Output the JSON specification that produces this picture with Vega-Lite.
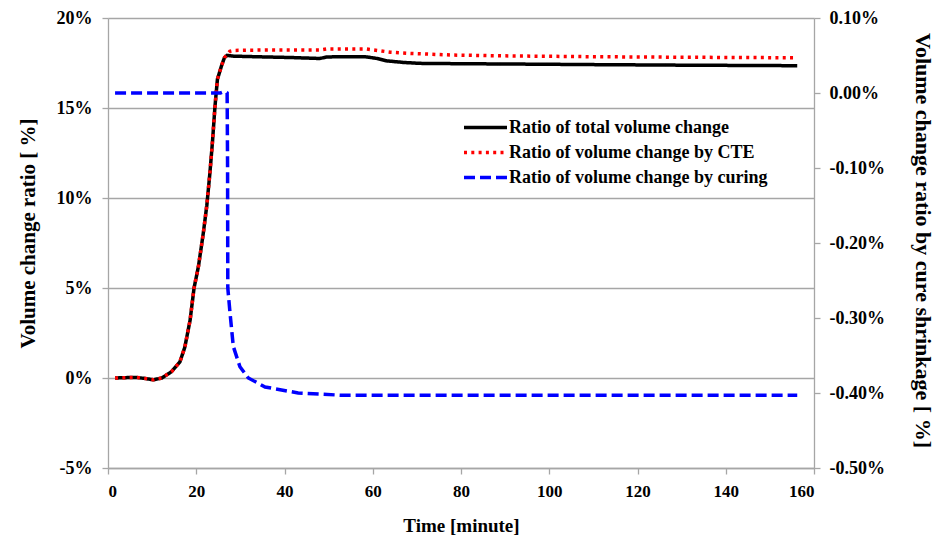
{
  "$schema": "https://vega.github.io/schema/vega-lite/v6.json",
  "width": 706,
  "height": 450,
  "autosize": "none",
  "padding": {"left": 108, "top": 18, "right": 123, "bottom": 70},
  "background": "white",
  "config": {
    "view": {"stroke": null},
    "font": "Liberation Serif",
    "axis": {
      "labelFont": "Liberation Serif", "labelFontWeight": "bold", "labelColor": "black",
      "titleFont": "Liberation Serif", "titleFontWeight": "bold", "titleColor": "black",
      "domainColor": "#a6a6a6", "domainWidth": 1.3, "tickColor": "#a6a6a6", "tickWidth": 1.3
    },
    "legend": {
      "labelFont": "Liberation Serif", "labelFontWeight": "bold", "labelFontSize": 18, "labelColor": "black", "labelLimit": 0
    }
  },
  "datasets": {
    "main": [
      {"t": 1.6, "v": 0.0, "series": "Ratio of total volume change"},
      {"t": 4, "v": 0.02, "series": "Ratio of total volume change"},
      {"t": 6.5, "v": 0.03, "series": "Ratio of total volume change"},
      {"t": 8.5, "v": -0.03, "series": "Ratio of total volume change"},
      {"t": 10.3, "v": -0.1, "series": "Ratio of total volume change"},
      {"t": 12.2, "v": 0.0, "series": "Ratio of total volume change"},
      {"t": 14.4, "v": 0.35, "series": "Ratio of total volume change"},
      {"t": 16.3, "v": 0.9, "series": "Ratio of total volume change"},
      {"t": 17.4, "v": 1.7, "series": "Ratio of total volume change"},
      {"t": 18.6, "v": 3.2, "series": "Ratio of total volume change"},
      {"t": 19.5, "v": 5.0, "series": "Ratio of total volume change"},
      {"t": 20.5, "v": 6.2, "series": "Ratio of total volume change"},
      {"t": 21.6, "v": 8.05, "series": "Ratio of total volume change"},
      {"t": 22.4, "v": 9.6, "series": "Ratio of total volume change"},
      {"t": 23.1, "v": 11.4, "series": "Ratio of total volume change"},
      {"t": 23.7, "v": 13.2, "series": "Ratio of total volume change"},
      {"t": 24.25, "v": 15.1, "series": "Ratio of total volume change"},
      {"t": 24.8, "v": 16.6, "series": "Ratio of total volume change"},
      {"t": 25.8, "v": 17.4, "series": "Ratio of total volume change"},
      {"t": 26.4, "v": 17.8, "series": "Ratio of total volume change"},
      {"t": 27.0, "v": 17.92, "series": "Ratio of total volume change"},
      {"t": 28.5, "v": 17.88, "series": "Ratio of total volume change"},
      {"t": 35, "v": 17.84, "series": "Ratio of total volume change"},
      {"t": 42, "v": 17.8, "series": "Ratio of total volume change"},
      {"t": 48, "v": 17.75, "series": "Ratio of total volume change"},
      {"t": 49.5, "v": 17.83, "series": "Ratio of total volume change"},
      {"t": 52, "v": 17.85, "series": "Ratio of total volume change"},
      {"t": 58.6, "v": 17.84, "series": "Ratio of total volume change"},
      {"t": 61, "v": 17.75, "series": "Ratio of total volume change"},
      {"t": 63.1, "v": 17.62, "series": "Ratio of total volume change"},
      {"t": 67, "v": 17.53, "series": "Ratio of total volume change"},
      {"t": 70.7, "v": 17.48, "series": "Ratio of total volume change"},
      {"t": 80, "v": 17.46, "series": "Ratio of total volume change"},
      {"t": 93.3, "v": 17.44, "series": "Ratio of total volume change"},
      {"t": 110, "v": 17.41, "series": "Ratio of total volume change"},
      {"t": 130, "v": 17.38, "series": "Ratio of total volume change"},
      {"t": 156.2, "v": 17.35, "series": "Ratio of total volume change"},
      {"t": 1.6, "v": 0.0, "series": "Ratio of volume change by CTE"},
      {"t": 4, "v": 0.02, "series": "Ratio of volume change by CTE"},
      {"t": 6.5, "v": 0.03, "series": "Ratio of volume change by CTE"},
      {"t": 8.5, "v": -0.03, "series": "Ratio of volume change by CTE"},
      {"t": 10.3, "v": -0.1, "series": "Ratio of volume change by CTE"},
      {"t": 12.2, "v": 0.0, "series": "Ratio of volume change by CTE"},
      {"t": 14.4, "v": 0.35, "series": "Ratio of volume change by CTE"},
      {"t": 16.3, "v": 0.9, "series": "Ratio of volume change by CTE"},
      {"t": 17.4, "v": 1.7, "series": "Ratio of volume change by CTE"},
      {"t": 18.6, "v": 3.2, "series": "Ratio of volume change by CTE"},
      {"t": 19.5, "v": 5.0, "series": "Ratio of volume change by CTE"},
      {"t": 20.5, "v": 6.2, "series": "Ratio of volume change by CTE"},
      {"t": 21.6, "v": 8.05, "series": "Ratio of volume change by CTE"},
      {"t": 22.4, "v": 9.6, "series": "Ratio of volume change by CTE"},
      {"t": 23.1, "v": 11.4, "series": "Ratio of volume change by CTE"},
      {"t": 23.7, "v": 13.2, "series": "Ratio of volume change by CTE"},
      {"t": 24.25, "v": 15.1, "series": "Ratio of volume change by CTE"},
      {"t": 24.8, "v": 16.6, "series": "Ratio of volume change by CTE"},
      {"t": 25.8, "v": 17.4, "series": "Ratio of volume change by CTE"},
      {"t": 26.4, "v": 17.8, "series": "Ratio of volume change by CTE"},
      {"t": 26.9, "v": 17.95, "series": "Ratio of volume change by CTE"},
      {"t": 27.6, "v": 18.15, "series": "Ratio of volume change by CTE"},
      {"t": 28.5, "v": 18.2, "series": "Ratio of volume change by CTE"},
      {"t": 35, "v": 18.22, "series": "Ratio of volume change by CTE"},
      {"t": 48, "v": 18.22, "series": "Ratio of volume change by CTE"},
      {"t": 49.5, "v": 18.28, "series": "Ratio of volume change by CTE"},
      {"t": 58.6, "v": 18.28, "series": "Ratio of volume change by CTE"},
      {"t": 61.6, "v": 18.18, "series": "Ratio of volume change by CTE"},
      {"t": 64, "v": 18.1, "series": "Ratio of volume change by CTE"},
      {"t": 67.7, "v": 18.04, "series": "Ratio of volume change by CTE"},
      {"t": 78.2, "v": 17.94, "series": "Ratio of volume change by CTE"},
      {"t": 91.8, "v": 17.89, "series": "Ratio of volume change by CTE"},
      {"t": 110, "v": 17.85, "series": "Ratio of volume change by CTE"},
      {"t": 130, "v": 17.82, "series": "Ratio of volume change by CTE"},
      {"t": 156.2, "v": 17.79, "series": "Ratio of volume change by CTE"}
    ],
    "cure": [
      {"t": 1.6, "v": 0.0, "series": "Ratio of volume change by curing"},
      {"t": 25.5, "v": 0.0, "series": "Ratio of volume change by curing"},
      {"t": 26.4, "v": 0.002, "series": "Ratio of volume change by curing"},
      {"t": 27.0, "v": 0.0, "series": "Ratio of volume change by curing"},
      {"t": 27.1, "v": -0.1, "series": "Ratio of volume change by curing"},
      {"t": 27.15, "v": -0.26, "series": "Ratio of volume change by curing"},
      {"t": 27.65, "v": -0.293, "series": "Ratio of volume change by curing"},
      {"t": 28.4, "v": -0.338, "series": "Ratio of volume change by curing"},
      {"t": 29.9, "v": -0.365, "series": "Ratio of volume change by curing"},
      {"t": 31.8, "v": -0.38, "series": "Ratio of volume change by curing"},
      {"t": 35.6, "v": -0.392, "series": "Ratio of volume change by curing"},
      {"t": 43.1, "v": -0.4, "series": "Ratio of volume change by curing"},
      {"t": 53, "v": -0.403, "series": "Ratio of volume change by curing"},
      {"t": 156.2, "v": -0.403, "series": "Ratio of volume change by curing"}
    ]
  },
  "layer": [
    {
      "data": {"name": "main"},
      "mark": {"type": "line", "strokeWidth": 3.5},
      "encoding": {
        "x": {
          "field": "t", "type": "quantitative",
          "scale": {"domain": [0, 160], "nice": false},
          "axis": {
            "values": [0, 20, 40, 60, 80, 100, 120, 140, 160],
            "grid": false, "tickSize": 6, "labelPadding": 9, "labelFontSize": 17,
            "title": "Time [minute]", "titleFontSize": 19, "titleBaseline": "alphabetic", "titleY": 63
          }
        },
        "y": {
          "field": "v", "type": "quantitative",
          "scale": {"domain": [-5, 20], "nice": false, "zero": false},
          "axis": {
            "orient": "left",
            "values": [-5, 0, 5, 10, 15, 20],
            "labelExpr": "datum.value + '%'",
            "grid": true, "gridColor": "#a6a6a6", "gridWidth": 1.3,
            "tickSize": 6, "labelPadding": 10, "labelFontSize": 18,
            "title": "Volume change ratio [ %]", "titleFontSize": 21,
            "titleX": -80, "titleY": 215, "titleBaseline": "middle", "titleAlign": "center"
          }
        },
        "color": {
          "field": "series", "type": "nominal",
          "scale": {
            "domain": ["Ratio of total volume change", "Ratio of volume change by CTE", "Ratio of volume change by curing"],
            "range": ["#000000", "#ff0000", "#0000ff"]
          },
          "legend": {
            "title": null, "orient": "none", "legendX": 354, "legendY": 97,
            "symbolType": "M-2,0H2", "symbolSize": 462, "symbolStrokeWidth": 3.5, "symbolOffset": 11,
            "labelOffset": 11, "rowPadding": 3, "padding": 0
          }
        },
        "strokeDash": {
          "field": "series", "type": "nominal",
          "scale": {
            "domain": ["Ratio of total volume change", "Ratio of volume change by CTE", "Ratio of volume change by curing"],
            "range": [[1, 0], [3, 4.3], [11, 5]]
          },
          "legend": {
            "title": null, "orient": "none", "legendX": 354, "legendY": 97,
            "symbolType": "M-2,0H2", "symbolSize": 462, "symbolStrokeWidth": 3.5, "symbolOffset": 11,
            "labelOffset": 11, "rowPadding": 3, "padding": 0
          }
        }
      }
    },
    {
      "data": {"name": "cure"},
      "mark": {"type": "line", "strokeWidth": 3.5},
      "encoding": {
        "x": {"field": "t", "type": "quantitative"},
        "y": {
          "field": "v", "type": "quantitative",
          "scale": {"domain": [-0.5, 0.1], "nice": false, "zero": false},
          "axis": {
            "orient": "right",
            "values": [-0.5, -0.4, -0.3, -0.2, -0.1, 0, 0.1],
            "labelExpr": "(datum.value < -0.0001 ? '-' : '') + format(abs(datum.value), '.2f') + '%'",
            "grid": false, "tickSize": 6, "labelPadding": 9, "labelFontSize": 18,
            "title": "Volume change ratio by cure shrinkage [ %]", "titleFontSize": 22,
            "titleX": 108, "titleY": 222, "titleBaseline": "middle", "titleAlign": "center"
          }
        },
        "color": {"field": "series", "type": "nominal"},
        "strokeDash": {"field": "series", "type": "nominal"}
      }
    }
  ],
  "resolve": {"scale": {"y": "independent"}}
}
